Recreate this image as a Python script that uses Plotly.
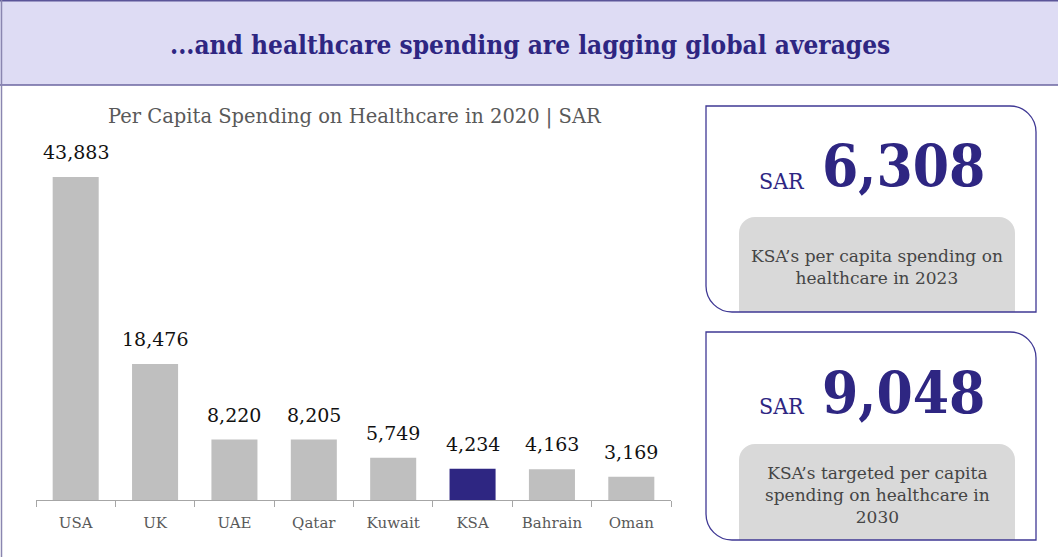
import plotly.graph_objects as go

W, H = 1058, 557

categories = ["USA", "UK", "UAE", "Qatar", "Kuwait", "KSA", "Bahrain", "Oman"]
values = [43883, 18476, 8220, 8205, 5749, 4234, 4163, 3169]
highlight = "KSA"

title_text = "...and healthcare spending are lagging global averages"
chart_title = "Per Capita Spending on Healthcare in 2020 | SAR"
card_values = ["6,308", "9,048"]
card_units = ["SAR", "SAR"]
card_texts = ["KSA’s per capita spending on<br>healthcare in 2023",
              "KSA’s targeted per capita<br>spending on healthcare in<br>2030"]

PURPLE = "#2E2682"
GRAY_BAR = "#BFBFBF"
SERIF_C = "DejaVu Serif Condensed, DejaVu Serif, serif"
SERIF = "DejaVu Serif, serif"


def px(x):
    return x / W


def py(y):
    return 1 - y / H


def path_pts(cmds):
    out = []
    for c in cmds:
        if isinstance(c, str):
            out.append(c)
        else:
            out.append(f"{px(c[0]):.5f},{py(c[1]):.5f}")
    return " ".join(out)


K = 0.5523


def card_path(x0, y0, x1, y1, r):
    # rounded top-right and bottom-left corners
    k = r * K
    return path_pts([
        "M", (x0, y0), "L", (x1 - r, y0),
        "C", (x1 - r + k, y0), (x1, y0 + r - k), (x1, y0 + r),
        "L", (x1, y1), "L", (x0 + r, y1),
        "C", (x0 + r - k, y1), (x0, y1 - r + k), (x0, y1 - r),
        "Z"])


def top_round_path(x0, y0, x1, y1, r):
    k = r * K
    return path_pts([
        "M", (x0, y1), "L", (x0, y0 + r),
        "C", (x0, y0 + r - k), (x0 + r - k, y0), (x0 + r, y0),
        "L", (x1 - r, y0),
        "C", (x1 - r + k, y0), (x1, y0 + r - k), (x1, y0 + r),
        "L", (x1, y1), "Z"])


colors = [PURPLE if c == highlight else GRAY_BAR for c in categories]

fig = go.Figure(go.Bar(x=categories, y=values, marker_color=colors,
                       marker_line_width=0, hoverinfo="skip"))

shapes = []
# header band
shapes.append(dict(type="rect", xref="paper", yref="paper",
                   x0=px(0), x1=px(W + 5), y0=py(85), y1=py(0),
                   fillcolor="#DEDCF4", line=dict(width=0), layer="below"))
shapes.append(dict(type="line", xref="paper", yref="paper",
                   x0=px(0), x1=px(W), y0=py(0.7), y1=py(0.7),
                   line=dict(color="#5B5598", width=1.5)))
shapes.append(dict(type="line", xref="paper", yref="paper",
                   x0=px(0), x1=px(W), y0=py(85), y1=py(85),
                   line=dict(color="#6B66A0", width=1.5)))
shapes.append(dict(type="line", xref="paper", yref="paper",
                   x0=px(1.5), x1=px(1.5), y0=py(0), y1=py(H),
                   line=dict(color="#8A86B0", width=1.5)))

cards = [(706, 106, 1036, 312, 217), (706, 332, 1036, 540, 444)]
for (x0, y0, x1, y1, gy) in cards:
    shapes.append(dict(type="path", xref="paper", yref="paper",
                       path=top_round_path(739, gy, 1015, y1, 16),
                       fillcolor="#D9D9D9", line=dict(width=0)))
    shapes.append(dict(type="path", xref="paper", yref="paper",
                       path=card_path(x0, y0, x1, y1, 26),
                       fillcolor="rgba(0,0,0,0)",
                       line=dict(color="#3F3894", width=1.3)))


def ann(text, x, y, size, color, family=SERIF, **kw):
    d = dict(text=text, xref="paper", yref="paper", x=px(x), y=py(y),
             xanchor="center", yanchor="middle", showarrow=False,
             font=dict(family=family, size=size, color=color))
    d.update(kw)
    return d


annotations = []
annotations.append(ann(f"<b>{title_text}</b>", 530, 45, 26, PURPLE, family=SERIF_C))
annotations.append(ann(chart_title, 355, 117, 19.5, "#595959"))
for c, v in zip(categories, values):
    annotations.append(dict(text=f"{v:,}", x=c, y=v, xref="x", yref="y",
                            xanchor="center", yanchor="middle", yshift=25,
                            showarrow=False,
                            font=dict(family=SERIF, size=19, color="#111111")))

card_centers = [(181, 166, (257, 277)), (406, 393, (475, 495, 515))]
for i, (sy, vy, ty) in enumerate(card_centers):
    annotations.append(ann(card_units[i], 782, sy, 23, PURPLE, family=SERIF_C))
    annotations.append(ann(f"<b>{card_values[i]}</b>", 903, vy, 58, PURPLE,
                           family=SERIF_C))
    mid = sum(ty) / len(ty)
    annotations.append(ann(card_texts[i], 877, mid, 17, "#454545", align="center"))

fig.update_layout(
    width=W, height=H, margin=dict(l=0, r=0, t=0, b=0),
    paper_bgcolor="white", plot_bgcolor="white",
    showlegend=False, bargap=0.42,
    shapes=shapes, annotations=annotations,
    xaxis=dict(type="category", range=[-0.5, 7.5], domain=[px(36), px(671)],
               showline=True, linecolor="#A6A6A6", linewidth=1,
               ticks="outside", tickson="boundaries", ticklen=6,
               tickcolor="#A6A6A6", showgrid=False, ticklabelstandoff=9,
               tickfont=dict(family=SERIF, size=15, color="#595959")),
    yaxis=dict(range=[0, 50000], domain=[py(500), py(132)], visible=False,
               showgrid=False),
)

fig.write_html("out.html", config={"displayModeBar": False},
               post_script="document.body.style.margin='0';")
